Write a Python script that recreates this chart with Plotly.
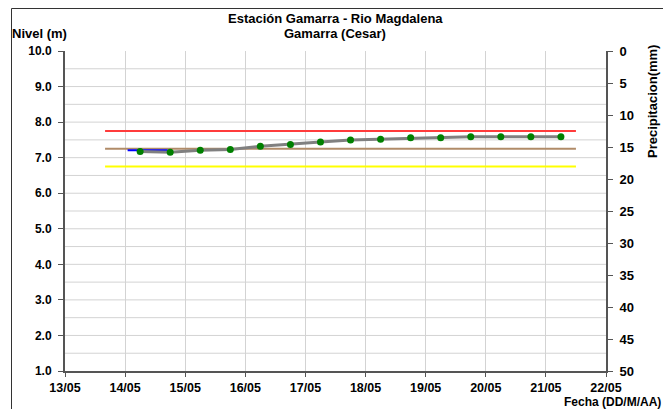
import plotly.graph_objects as go
from datetime import datetime

YEAR = 2011
# Observed level series (every 12 h)
obs_times = ["14/05 06:00", "14/05 18:00", "15/05 06:00", "15/05 18:00", "16/05 06:00",
             "16/05 18:00", "17/05 06:00", "17/05 18:00", "18/05 06:00", "18/05 18:00",
             "19/05 06:00", "19/05 18:00", "20/05 06:00", "20/05 18:00", "21/05 06:00"]
obs_levels = [7.17, 7.15, 7.21, 7.23, 7.32, 7.37, 7.44, 7.50, 7.52, 7.56,
              7.56, 7.59, 7.59, 7.59, 7.59]

# Short blue series
blue_times = ["14/05 01:00", "14/05 17:00"]
blue_levels = [7.21, 7.21]

# Threshold lines
thr_times = ["13/05 16:00", "21/05 12:00"]
thr_red = 7.75
thr_brown = 7.25
thr_yellow = 6.75

x_tick_labels = ["13/05", "14/05", "15/05", "16/05", "17/05", "18/05", "19/05", "20/05", "21/05", "22/05"]
y_tick_vals = [1, 2, 3, 4, 5, 6, 7, 8, 9, 10]
y2_tick_vals = [0, 5, 10, 15, 20, 25, 30, 35, 40, 45, 50]


def d(s):
    if " " in s:
        return datetime.strptime(s.replace(" ", f"/{YEAR} "), "%d/%m/%Y %H:%M")
    return datetime.strptime(f"{s}/{YEAR}", "%d/%m/%Y")


obs_x = [d(t) for t in obs_times]
blue_x = [d(t) for t in blue_times]
thr_x = [d(t) for t in thr_times]
tick_x = [d(t) for t in x_tick_labels]

FONT = "Liberation Sans, Arial, sans-serif"


def bf(size):
    return dict(family=FONT, size=size, color="black", weight="bold")


fig = go.Figure()
fig.add_trace(go.Scatter(x=thr_x, y=[thr_red] * 2, mode="lines", line=dict(color="#ff3b3b", width=2), showlegend=False))
fig.add_trace(go.Scatter(x=thr_x, y=[thr_brown] * 2, mode="lines", line=dict(color="#b08b68", width=2), showlegend=False))
fig.add_trace(go.Scatter(x=thr_x, y=[thr_yellow] * 2, mode="lines", line=dict(color="#ffff00", width=2), showlegend=False))
fig.add_trace(go.Scatter(x=blue_x, y=blue_levels, mode="lines", line=dict(color="#0000ff", width=2), showlegend=False))
fig.add_trace(go.Scatter(x=obs_x, y=obs_levels, mode="lines+markers",
                         line=dict(color="#808080", width=3),
                         marker=dict(color="#008000", size=7), showlegend=False))
fig.add_trace(go.Scatter(x=[None], y=[None], yaxis="y2", showlegend=False, hoverinfo="skip"))

fig.update_layout(
    width=663, height=409,
    margin=dict(l=65, r=57, t=51, b=38),
    paper_bgcolor="white", plot_bgcolor="white",
    font=bf(12),
    xaxis=dict(
        type="date", range=[tick_x[0], tick_x[-1]],
        tickvals=tick_x, ticktext=x_tick_labels,
        showgrid=True, gridcolor="#d3d3d3", gridwidth=1,
        showline=True, linecolor="#555555", linewidth=2,
        ticks="outside", ticklen=4, tickcolor="#555555",
        tickfont=bf(12.5), zeroline=False,
    ),
    yaxis=dict(
        range=[1, 10], tickvals=y_tick_vals,
        ticktext=[f"{v:.1f}" for v in y_tick_vals],
        showgrid=False,
        showline=True, linecolor="#555555", linewidth=2,
        ticks="outside", ticklen=5, tickcolor="#555555",
        tickfont=bf(12), ticklabelstandoff=4, zeroline=False,
    ),
    yaxis2=dict(
        overlaying="y", side="right", range=[50, 0],
        tickvals=y2_tick_vals, showgrid=False,
        showline=True, linecolor="#555555", linewidth=2,
        ticks="outside", ticklen=5, tickcolor="#555555",
        tickfont=bf(13), ticklabelstandoff=4,
        zeroline=False,
    ),
)

# horizontal gridlines every 0.5
for v in [1.5 + 0.5 * i for i in range(17)]:
    fig.add_shape(type="line", xref="paper", yref="y", x0=0, x1=1, y0=v, y1=v,
                  line=dict(color="#d3d3d3", width=1), layer="below")


# screen-pixel -> paper helpers (plot area on screen: x 65..606, y 51..371)
def px(X):
    return (X - 65) / 541


def py(Y):
    return (371 - Y) / 320


# outer border (left and top edges visible)
fig.add_shape(type="line", xref="paper", yref="paper",
              x0=px(11.5), x1=px(11.5), y0=py(409), y1=py(8.5),
              line=dict(color="#333333", width=1))
fig.add_shape(type="line", xref="paper", yref="paper",
              x0=px(11.5), x1=px(663), y0=py(8.5), y1=py(8.5),
              line=dict(color="#333333", width=1))


def label(text, X, Y, size, xanchor="center", angle=0):
    fig.add_annotation(xref="paper", yref="paper", x=px(X), y=py(Y), text=text,
                       showarrow=False, xanchor=xanchor, yanchor="middle",
                       textangle=angle, font=bf(size), borderpad=0)


label("Estación Gamarra - Rio Magdalena", 335, 18, 13)
label("Gamarra (Cesar)", 335, 34, 13)
label("Nivel (m)", 11, 34, 13, xanchor="left")
label("Fecha (DD/M/AA)", 662, 402, 12, xanchor="right")
label("Precipitacion(mm)", 652, 102, 13, angle=-90)

# remove the default 8px page margin so the figure fills the 663x409 window exactly
fig.write_html("out.html", config={"displayModeBar": False},
               post_script="document.body.style.margin='0';document.body.style.overflow='hidden';")
